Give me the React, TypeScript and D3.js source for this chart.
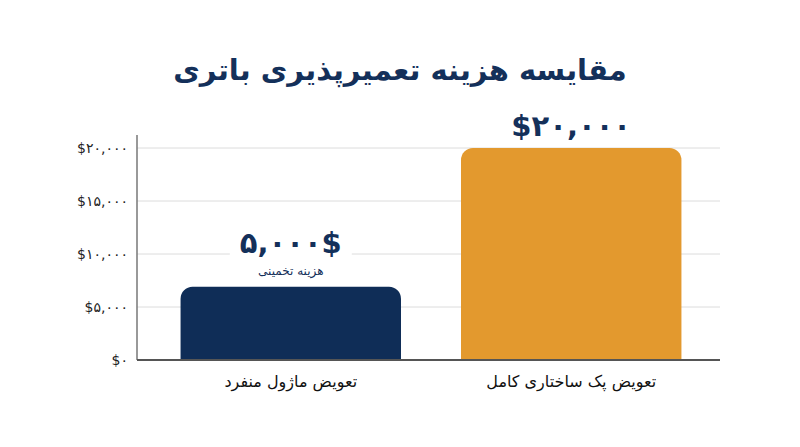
import React from "react";
import * as d3 from "d3";

const categories = ["تعویض ماژول منفرد", "تعویض پک ساختاری کامل"];
const values = [6900, 20000];
const barColors = ["#0f2d57", "#e3992e"];
const valueLabels = ["۵,۰۰۰$", "$۲۰,۰۰۰"];
const valueSubLabels = ["هزینه تخمینی", ""];
const yTicks = [0, 5000, 10000, 15000, 20000];
const title = "مقایسه هزینه تعمیرپذیری باتری";

const W = 800;
const H = 447;
const left = 137;
const right = 720;
const top = 135;
const bottom = 360;

const fa = "۰۱۲۳۴۵۶۷۸۹";
const toFa = (s: string) => s.replace(/[0-9]/g, (d) => fa[+d]);
const fmt = d3.format(",");

const FONT = "'DejaVu Sans', 'Noto Sans', sans-serif";

function topRoundedRect(x: number, y: number, w: number, h: number, r: number) {
  const p = d3.path();
  p.moveTo(x, y + h);
  p.lineTo(x, y + r);
  p.arcTo(x, y, x + r, y, r);
  p.lineTo(x + w - r, y);
  p.arcTo(x + w, y, x + w, y + r, r);
  p.lineTo(x + w, y + h);
  p.closePath();
  return p.toString();
}

export default function App() {
  const x = d3
    .scaleBand<string>()
    .domain(categories)
    .range([left + 1.5, 723.5])
    .paddingInner(0.214)
    .paddingOuter(0.15);
  const y = d3.scaleLinear().domain([0, 20000]).range([bottom, 148]);

  return (
    <svg width={W} height={H} style={{ display: "block", background: "#fff", position: "absolute", left: 0, top: 0 }}>
      <rect width={W} height={H} fill="#fff" />
      <text
        x={400}
        y={80}
        textAnchor="middle"
        direction="rtl"
        fontFamily={FONT}
        fontWeight="bold"
        fontSize={29}
        fill="#14305a"
      >
        {title}
      </text>
      {yTicks.map((t) => (
        <g key={t}>
          {t > 0 && (
            <line x1={left} x2={right} y1={y(t)} y2={y(t)} stroke="#dcdcdc" strokeWidth={1} />
          )}
          <text
            x={128}
            y={y(t)}
            dy="0.35em"
            textAnchor="end"
            fontFamily={FONT}
            fontSize={14}
            fill="#222"
          >
            {"$" + toFa(fmt(t))}
          </text>
        </g>
      ))}
      {categories.map((c, i) => {
        const bx = x(c)!;
        const bw = x.bandwidth();
        const by = y(values[i]);
        return (
          <path key={c} d={topRoundedRect(bx, by, bw, bottom - by, 12)} fill={barColors[i]} />
        );
      })}
      <line x1={left} x2={left} y1={top} y2={bottom} stroke="#777" strokeWidth={1.5} />
      <line x1={left} x2={right} y1={bottom} y2={bottom} stroke="#555" strokeWidth={2} />
      {categories.map((c, i) => {
        const cx = x(c)! + x.bandwidth() / 2;
        const by = y(values[i]);
        const hasSub = valueSubLabels[i] !== "";
        return (
          <g key={"lbl" + c}>
            {hasSub && <rect x={cx - 61} y={by - 62} width={122} height={37} fill="#fff" />}
            <text
              x={cx}
              y={hasSub ? by - 34 : by - 12}
              textAnchor="middle"
              fontFamily={FONT}
              fontWeight="bold"
              fontSize={29}
              fill="#14305a"
            >
              {valueLabels[i]}
            </text>
            {hasSub && (
              <text
                x={cx}
                y={by - 12}
                textAnchor="middle"
                direction="rtl"
                fontFamily={FONT}
                fontSize={12}
                fill="#14305a"
              >
                {valueSubLabels[i]}
              </text>
            )}
            <text
              x={cx}
              y={387}
              textAnchor="middle"
              direction="rtl"
              fontFamily={FONT}
              fontSize={16}
              fill="#111"
            >
              {c}
            </text>
          </g>
        );
      })}
    </svg>
  );
}
